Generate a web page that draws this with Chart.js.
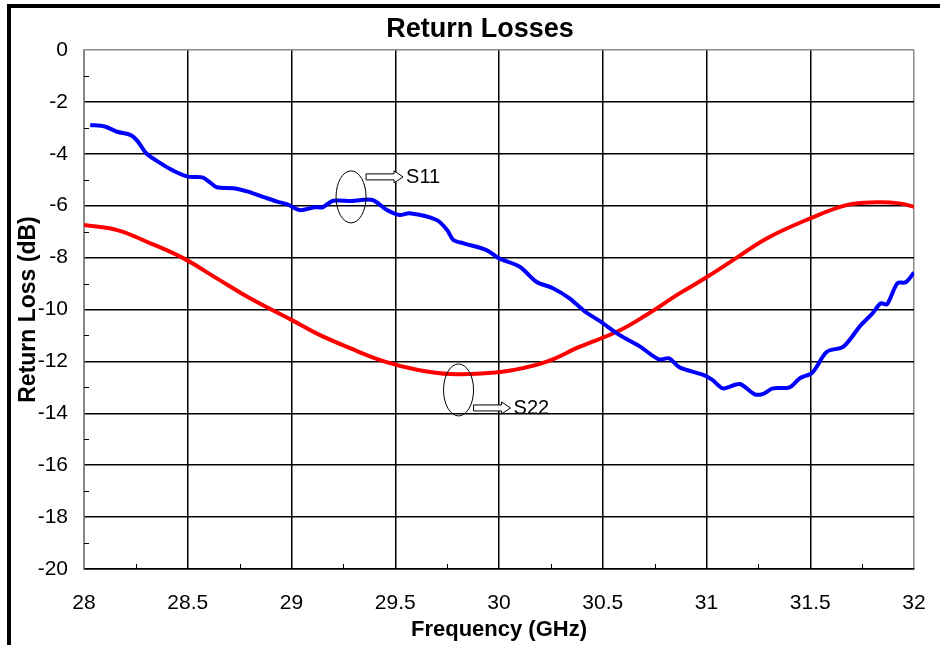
<!DOCTYPE html>
<html>
<head>
<meta charset="utf-8">
<script src="https://cdn.jsdelivr.net/npm/chart.js@4.4.0/dist/chart.umd.min.js"></script>
<style>
  body { margin: 0; background: #fff; }
  .wrap { position: relative; width: 940px; height: 645px; }
  .frame { position: absolute; left: 7px; top: 4px; right: 0; bottom: 0; border-left: 4px solid #000; border-top: 4px solid #000; pointer-events: none; }
</style>
</head>
<body>
<div class="wrap">
  <canvas id="myChart" width="940" height="645"></canvas>
  <div class="frame"></div>
</div>
<script>
const s11Freq = [28.03, 28.10, 28.16, 28.225, 28.26, 28.30, 28.37, 28.43, 28.50, 28.57, 28.61, 28.64, 28.72, 28.79, 28.87, 28.93, 28.98, 29.04, 29.11, 29.15, 29.20, 29.29, 29.39, 29.46, 29.52, 29.57, 29.70, 29.75, 29.78, 29.83, 29.94, 30.00, 30.10, 30.18, 30.26, 30.34, 30.41, 30.49, 30.58, 30.68, 30.77, 30.82, 30.87, 30.985, 31.03, 31.08, 31.16, 31.23, 31.27, 31.32, 31.40, 31.45, 31.51, 31.58, 31.66, 31.74, 31.80, 31.84, 31.87, 31.92, 31.96, 32.00];
const s11Loss = [-2.89, -2.95, -3.15, -3.28, -3.53, -3.98, -4.37, -4.65, -4.88, -4.91, -5.12, -5.29, -5.33, -5.46, -5.68, -5.84, -5.95, -6.17, -6.06, -6.06, -5.81, -5.82, -5.78, -6.17, -6.36, -6.29, -6.55, -6.94, -7.32, -7.45, -7.71, -8.03, -8.35, -8.93, -9.18, -9.57, -10.05, -10.47, -10.98, -11.43, -11.92, -11.88, -12.23, -12.52, -12.72, -13.04, -12.87, -13.26, -13.26, -13.04, -13.0, -12.65, -12.43, -11.63, -11.43, -10.64, -10.15, -9.76, -9.80, -8.99, -8.95, -8.58];

const s22Freq = [28.00, 28.16, 28.32, 28.48, 28.64, 28.80, 29.00, 29.12, 29.285, 29.45, 29.61, 29.77, 29.93, 30.07, 30.23, 30.39, 30.57, 30.71, 30.87, 31.00, 31.13, 31.29, 31.50, 31.68, 31.82, 31.93, 32.00];
const s22Loss = [-6.74, -6.94, -7.45, -8.03, -8.80, -9.57, -10.40, -10.92, -11.50, -12.01, -12.33, -12.49, -12.46, -12.33, -12.01, -11.43, -10.85, -10.21, -9.38, -8.76, -8.09, -7.26, -6.49, -5.97, -5.87, -5.91, -6.04];

const xTicks = [28, 28.5, 29, 29.5, 30, 30.5, 31, 31.5, 32];
const yTicks = [0, -2, -4, -6, -8, -10, -12, -14, -16, -18, -20];

// callouts: label, ellipse centre (freq, dB)
const noteLabels = ['S11', 'S22'];
const noteFreq = [29.287, 29.805];
const noteLoss = [-5.66, -13.1];

const FONT = "'Liberation Sans', Arial, sans-serif";

const toPoints = (xs, ys) => xs.map((x, i) => ({ x, y: ys[i] }));

// title, inner minor ticks + callouts
const extras = {
    id: 'extras',
    afterDatasetsDraw(chart) {
        const { ctx, chartArea: a, scales: { x, y } } = chart;
        ctx.save();

        ctx.fillStyle = '#000';
        ctx.font = 'bold 27px ' + FONT;
        ctx.textAlign = 'center';
        ctx.textBaseline = 'middle';
        ctx.fillText('Return Losses', chart.width / 2 + 10, 30);

        ctx.strokeStyle = '#000';
        ctx.lineWidth = 1;
        ctx.beginPath();
        for (let i = 0; i < yTicks.length - 1; i++) {
            const py = Math.round(y.getPixelForValue((yTicks[i] + yTicks[i + 1]) / 2)) + 0.5;
            ctx.moveTo(a.left, py);
            ctx.lineTo(a.left + 5, py);
        }
        for (let i = 0; i < xTicks.length - 1; i++) {
            const px = Math.round(x.getPixelForValue((xTicks[i] + xTicks[i + 1]) / 2)) + 0.5;
            ctx.moveTo(px, a.bottom);
            ctx.lineTo(px, a.bottom - 5);
        }
        ctx.stroke();

        noteLabels.forEach((label, i) => {
            const cx = x.getPixelForValue(noteFreq[i]);
            const cy = y.getPixelForValue(noteLoss[i]);
            ctx.strokeStyle = '#000';
            ctx.lineWidth = 1;
            ctx.beginPath();
            ctx.ellipse(cx, cy, 15, 26, 0, 0, Math.PI * 2);
            ctx.stroke();
            // arrow
            const ay = i === 0 ? cy - 20 : cy + 18;
            const ax = cx + 15;
            const len = 37;
            ctx.fillStyle = '#fff';
            ctx.beginPath();
            ctx.moveTo(ax, ay - 3);
            ctx.lineTo(ax + len - 9, ay - 3);
            ctx.lineTo(ax + len - 9, ay - 6);
            ctx.lineTo(ax + len, ay);
            ctx.lineTo(ax + len - 9, ay + 6);
            ctx.lineTo(ax + len - 9, ay + 3);
            ctx.lineTo(ax, ay + 3);
            ctx.closePath();
            ctx.fill();
            ctx.stroke();
            ctx.fillStyle = '#000';
            ctx.font = '20px ' + FONT;
            ctx.textBaseline = 'middle';
            ctx.textAlign = 'left';
            ctx.fillText(label, ax + len + 3, ay + 1);
        });
        ctx.restore();
    },
};

const gridColor = (edge) => (c) => (c.tick && c.tick.value === edge ? '#8c8c8c' : '#000');

const config = {
    type: 'line',
    data: {
        datasets: [
            {
                label: 'S11',
                data: toPoints(s11Freq, s11Loss),
                borderColor: '#0000ff',
                borderWidth: 4,
                pointRadius: 0,
                tension: 0.3,
            },
            {
                label: 'S22',
                data: toPoints(s22Freq, s22Loss),
                borderColor: '#ff0000',
                borderWidth: 4,
                pointRadius: 0,
                tension: 0.4,
            },
        ],
    },
    options: {
        responsive: false,
        devicePixelRatio: 1,
        animation: false,
        layout: { padding: { left: 12, right: 26, top: 50, bottom: 0 } },
        plugins: {
            legend: { display: false },
            tooltip: { enabled: false },
            title: { display: false },
        },
        scales: {
            x: {
                type: 'linear',
                min: 28,
                max: 32,
                afterBuildTicks: (s) => { s.ticks = xTicks.map((v) => ({ value: v })); },
                afterFit: (s) => {
                    s.height = 76;
                    s.paddingLeft = 12;
                    s.paddingRight = 12;
                },
                ticks: {
                    color: '#000',
                    font: { family: FONT, size: 21 },
                    padding: 22,
                    maxRotation: 0,
                    callback: (v) => String(v),
                },
                grid: { color: gridColor(32), lineWidth: 1.5, drawTicks: false },
                border: { color: '#000', width: 1.5 },
                title: {
                    display: true,
                    text: 'Frequency (GHz)',
                    color: '#000',
                    font: { family: FONT, size: 22, weight: 'bold' },
                    padding: { top: 0, bottom: 2 },
                },
            },
            y: {
                min: -20,
                max: 0,
                afterBuildTicks: (s) => { s.ticks = yTicks.map((v) => ({ value: v })); },
                afterFit: (s) => { s.width = 72; },
                ticks: {
                    color: '#000',
                    font: { family: FONT, size: 21 },
                    padding: 16,
                    callback: (v) => String(v),
                },
                grid: { color: gridColor(0), lineWidth: 1.5, drawTicks: false },
                border: { color: '#8c8c8c', width: 1.5 },
                title: {
                    display: true,
                    text: 'Return Loss (dB)',
                    color: '#000',
                    font: { family: FONT, size: 23, weight: 'bold' },
                    padding: { top: 3, bottom: 0 },
                },
            },
        },
    },
    plugins: [extras],
};

const myChart = new Chart(document.getElementById('myChart'), config);
</script>
</body>
</html>
